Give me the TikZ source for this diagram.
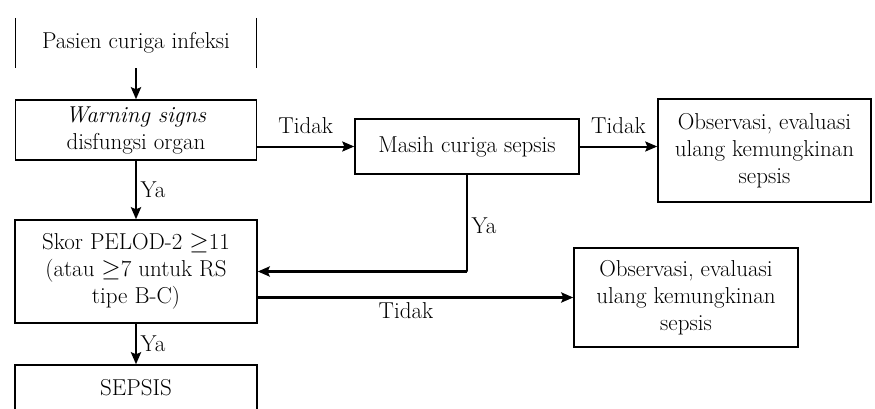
\documentclass[tikz,border=0pt]{standalone}
\usepackage{fontspec}
\usepackage{amssymb}
\usetikzlibrary{arrows,arrows.meta,positioning}
\tikzset{>={Stealth[length=12pt,width=10pt,inset=2pt]},auto}
\tikzset{box/.style={draw,line width=1.4pt,align=center,inner sep=2pt}}
\tikzset{flow/.style={->,line width=2.6pt}}

\begin{document}
\begin{tikzpicture}[x=1pt,y=-1pt,node distance=87pt,
    every node/.style={font=\fontsize{23}{27}\selectfont}]
    \useasboundingbox (0,0) rectangle (875,409);
    \node[minimum width=241pt,minimum height=50pt] (pasien) at (136,43) {Pasien curiga infeksi};
    \draw[line width=1.4pt] (pasien.north west) -- (pasien.south west)
        (pasien.north east) -- (pasien.south east);
    \node[box,minimum width=241pt,minimum height=60pt] (warn) [below of=pasien]
        {\textit{Warning signs}\\disfungsi organ};
    \node[box,minimum width=224pt,minimum height=55pt] (masih) [right of=warn,node distance=331pt,yshift=-16.5pt]
        {Masih curiga sepsis};
    \node[box,minimum width=213pt,minimum height=103pt] (obs1) [right of=masih,node distance=297.5pt,yshift=-4pt]
        {Observasi, evaluasi\\ulang kemungkinan\\sepsis};
    \node[box,minimum width=242pt,minimum height=103pt] (skor) [below of=warn,node distance=141.5pt]
        {Skor PELOD-2 $\geq$11\\(atau $\geq$7 untuk RS\\tipe B-C)};
    \node[box,minimum width=224pt,minimum height=99pt] (obs2) [right of=skor,node distance=550pt,yshift=-26pt]
        {Observasi, evaluasi\\ulang kemungkinan\\sepsis};
    \node[box,minimum width=242pt,minimum height=46pt] (sepsis) [below of=skor,node distance=116.5pt]
        {SEPSIS};

    \draw[flow] (pasien) -- (warn);
    \draw[flow] (warn) -- node {Ya} (skor);
    \draw[flow] (skor) -- node {Ya} (sepsis);
    \draw[flow,line width=2pt] (warn.east |- masih.west) -- node[yshift=8pt] {Tidak} (masih.west);
    \draw[flow,line width=2pt] (masih.east) -- node[yshift=8pt] {Tidak} (masih.east -| obs1.west);
    \draw[flow] (masih.south) -- node[pos=0.53] {Ya} ++(0,97) |- (skor.east);
    \draw[flow] (skor.east |- obs2.west) -- node[below,pos=0.47] {Tidak} (obs2.west);
\end{tikzpicture}
\end{document}
